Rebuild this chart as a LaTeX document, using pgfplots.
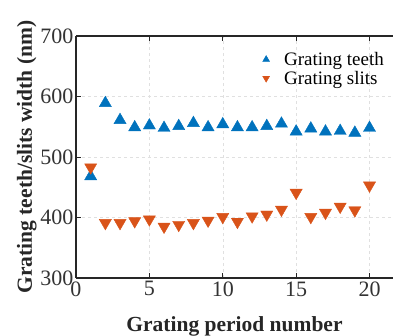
\documentclass[border=0pt]{standalone}
\usepackage{pgfplots}
\pgfplotsset{compat=1.18}
\usepackage{fontspec}
\setmainfont{Liberation Serif}
\definecolor{mblue}{RGB}{0,114,189}
\definecolor{morange}{RGB}{217,83,25}
\begin{document}
\begin{tikzpicture}
\begin{axis}[
  width=317pt, height=242pt, scale only axis,
  xmin=0, xmax=21.6, ymin=300, ymax=700,
  xtick={0,5,10,15,20}, ytick={300,400,500,600,700},
  axis x line*=box, axis y line*=left,
  axis line style={line width=1.3pt, black!85},
  tick style={black!85, line width=0.8pt},
  tick align=inside, major tick length=5pt,
  grid=major, grid style={dashed, black!12, line width=0.5pt},
  /pgf/number format/assume math mode=true,
  ticklabel style={font=\fontsize{22}{24}\selectfont, text=black!80},
  yticklabel style={xshift=1pt},
  xticklabel style={yshift=0pt},
  xlabel={\textbf{Grating period number}},
  ylabel={\textbf{Grating teeth/slits width (nm)}},
  label style={font=\fontsize{21.5}{24}\selectfont, text=black!85},
  xlabel style={yshift=-13pt},
  ylabel style={yshift=-3pt},
  legend style={draw=none, fill=none, at={(1,1)}, anchor=north east, xshift=-4pt, yshift=-12pt,
     font=\fontsize{19}{22}\selectfont, row sep=0pt},
  legend cell align=left,
]
\addplot[only marks, mark=triangle*, mark size=7pt, color=mblue, mark options={draw=mblue, fill=mblue},
  legend image code/.code={\path[draw=none,fill=none] (0,0) -- (0.68cm,0); \draw[mark=triangle*, mark size=4pt, mark options={fill=mblue,draw=mblue}] plot coordinates {(0.12cm,0cm)};}]
 coordinates {(1,468)(2,589)(3,561)(4,549)(5,552)(6,548)(7,551)(8,556)(9,549)(10,554)
 (11,549)(12,549)(13,551)(14,555)(15,542)(16,547)(17,542)(18,543)(19,540)(20,548)};
\addlegendentry{Grating teeth}
\addplot[only marks, mark=triangle*, mark size=7pt, color=morange, mark options={draw=morange, fill=morange, rotate=180},
  legend image code/.code={\path[draw=none,fill=none] (0,0) -- (0.68cm,0); \draw[mark=triangle*, mark size=4pt, mark options={fill=morange,draw=morange,rotate=180}] plot coordinates {(0.12cm,0cm)};}]
 coordinates {(1,483)(2,391)(3,391)(4,394)(5,397)(6,385)(7,388)(8,391)(9,395)(10,401)
 (11,393)(12,402)(13,405)(14,413)(15,441)(16,401)(17,408)(18,418)(19,412)(20,453)};
\addlegendentry{Grating slits}
\end{axis}
\pgfresetboundingbox
\useasboundingbox ([xshift=-76pt,yshift=-57pt]current axis.south west) rectangle ([yshift=36pt]current axis.north east);
\end{tikzpicture}
\end{document}
